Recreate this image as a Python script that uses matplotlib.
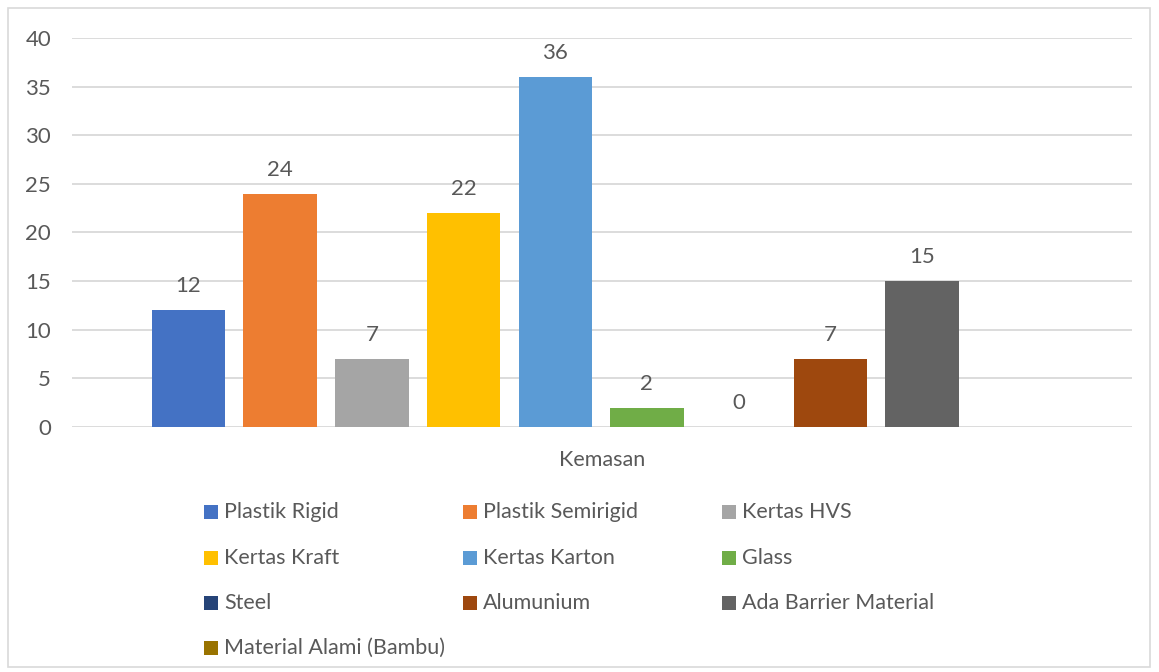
import numpy as np
import matplotlib.pyplot as plt
from matplotlib.patches import Rectangle

categories = ["Plastik Rigid", "Plastik Semirigid", "Kertas HVS", "Kertas Kraft",
              "Kertas Karton", "Glass", "Steel", "Alumunium",
              "Ada Barrier Material", "Material Alami (Bambu)"]
values = [12, 24, 7, 22, 36, 2, 0, 7, 15, np.nan]
colors = ["#4472C4", "#ED7D31", "#A5A5A5", "#FFC000", "#5B9BD5",
          "#70AD47", "#264478", "#9E480E", "#636363", "#997300"]
group_label = "Kemasan"
yticks = [0, 5, 10, 15, 20, 25, 30, 35, 40]

W, H = 1159, 672
text_color = "#595959"
grid_color = "#D9D9D9"
font = "Lato"

fig = plt.figure(figsize=(W / 100, H / 100), dpi=100)
ax = fig.add_axes([72 / W, 1 - 427 / H, (1132 - 72) / W, (427 - 38) / H])

x = np.arange(len(categories))
bars = ax.bar(x, np.nan_to_num(values), width=0.8, color=colors, zorder=3)
for xi, v in zip(x, values):
    if np.isnan(v):
        continue
    ax.annotate(f"{v:g}", (xi, v), xytext=(0, 10), textcoords="offset points",
                ha="center", va="bottom", fontsize=16, color=text_color, family=font)

ax.set_xlim(-1.27, 10.29)
ax.set_ylim(0, 40)
ax.set_yticks(yticks)
ax.set_xticks([])
ax.grid(True, axis="y", color=grid_color, linewidth=1.3, zorder=0)
for s in ax.spines.values():
    s.set_visible(False)
ax.tick_params(axis="y", length=0, pad=15, labelsize=16, labelcolor=text_color)
for lbl in ax.get_yticklabels():
    lbl.set_family(font)

fig.text(602 / W, 1 - 460 / H, group_label, ha="center", va="center",
         fontsize=15.5, color=text_color, family=font)

# legend laid out like the Excel one (row-major, 3 columns)
col_x = [204, 463, 722]
row_y = [512, 557.5, 603, 648]
box = 14
for i, (name, c) in enumerate(zip(categories, colors)):
    lx = col_x[i % 3]
    cy = row_y[i // 3]
    fig.patches.append(Rectangle((lx / W, 1 - (cy + box / 2) / H),
                                 box / W, box / H, transform=fig.transFigure,
                                 facecolor=c, edgecolor="none"))
    fig.text((lx + box + 6) / W, 1 - cy / H, name, ha="left", va="center",
             fontsize=15.5, color=text_color, family=font)

# chart border
fig.patches.append(Rectangle((8 / W, 1 - 667 / H), (1150 - 8) / W, (667 - 8) / H,
                             transform=fig.transFigure, facecolor="none",
                             edgecolor=grid_color, linewidth=1.2))

fig.savefig("out.png", dpi=100)
